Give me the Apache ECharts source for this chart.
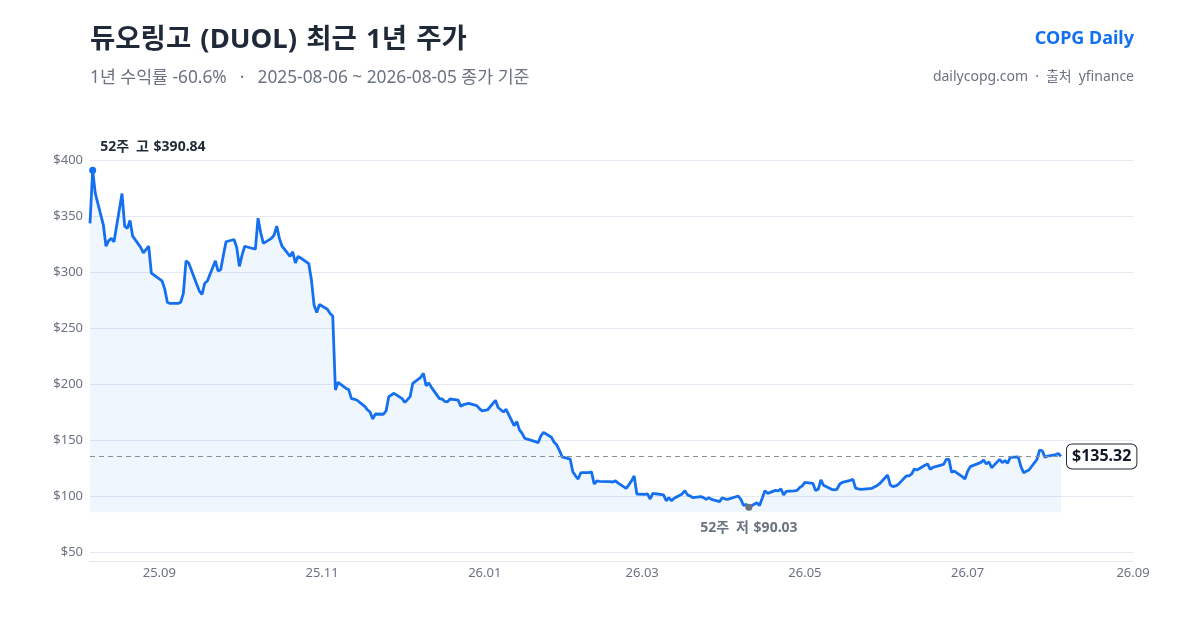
<!DOCTYPE html>
<html>
<head>
<meta charset="utf-8">
<script src="https://cdn.jsdelivr.net/npm/echarts@6/dist/echarts.min.js"></script>
<style>
  html, body { margin: 0; padding: 0; background: #fff; }
  #chart { width: 1200px; height: 630px; }
</style>
</head>
<body>
<div id="chart"></div>
<script>
const FONT = "'Noto Sans', 'Noto Sans CJK KR', sans-serif"
const SP = '\u2002', SP3 = '\u2004' // 한글 사이 간격을 조금 넓게

// 종가 (일별)
const dates = [
  '2025-08-06','2025-08-07','2025-08-08','2025-08-11','2025-08-12','2025-08-13','2025-08-14','2025-08-15',
  '2025-08-18','2025-08-19','2025-08-20','2025-08-21','2025-08-22','2025-08-25','2025-08-26','2025-08-27',
  '2025-08-28','2025-08-29','2025-09-02','2025-09-03','2025-09-04','2025-09-05','2025-09-08','2025-09-09',
  '2025-09-10','2025-09-11','2025-09-12','2025-09-15','2025-09-16','2025-09-17','2025-09-18','2025-09-19',
  '2025-09-22','2025-09-23','2025-09-24','2025-09-25','2025-09-26','2025-09-29','2025-09-30','2025-10-01',
  '2025-10-02','2025-10-03','2025-10-06','2025-10-07','2025-10-08','2025-10-09','2025-10-10','2025-10-13',
  '2025-10-14','2025-10-15','2025-10-16','2025-10-17','2025-10-20','2025-10-21','2025-10-22','2025-10-23',
  '2025-10-24','2025-10-27','2025-10-28','2025-10-29','2025-10-30','2025-10-31','2025-11-03','2025-11-04',
  '2025-11-05','2025-11-06','2025-11-07','2025-11-10','2025-11-11','2025-11-12','2025-11-13','2025-11-14',
  '2025-11-17','2025-11-18','2025-11-19','2025-11-20','2025-11-21','2025-11-24','2025-11-25','2025-11-26',
  '2025-11-28','2025-12-01','2025-12-02','2025-12-03','2025-12-04','2025-12-05','2025-12-08','2025-12-09',
  '2025-12-10','2025-12-11','2025-12-12','2025-12-15','2025-12-16','2025-12-17','2025-12-18','2025-12-19',
  '2025-12-22','2025-12-23','2025-12-24','2025-12-26','2025-12-29','2025-12-30','2025-12-31','2026-01-02',
  '2026-01-05','2026-01-06','2026-01-07','2026-01-08','2026-01-09','2026-01-12','2026-01-13','2026-01-14',
  '2026-01-15','2026-01-16','2026-01-20','2026-01-21','2026-01-22','2026-01-23','2026-01-26','2026-01-27',
  '2026-01-28','2026-01-29','2026-01-30','2026-02-02','2026-02-03','2026-02-04','2026-02-05','2026-02-06',
  '2026-02-09','2026-02-10','2026-02-11','2026-02-12','2026-02-13','2026-02-17','2026-02-18','2026-02-19',
  '2026-02-20','2026-02-23','2026-02-24','2026-02-25','2026-02-26','2026-02-27','2026-03-02','2026-03-03',
  '2026-03-04','2026-03-05','2026-03-06','2026-03-09','2026-03-10','2026-03-11','2026-03-12','2026-03-13',
  '2026-03-16','2026-03-17','2026-03-18','2026-03-19','2026-03-20','2026-03-23','2026-03-24','2026-03-25',
  '2026-03-26','2026-03-27','2026-03-30','2026-03-31','2026-04-01','2026-04-02','2026-04-06','2026-04-07',
  '2026-04-08','2026-04-09','2026-04-10','2026-04-13','2026-04-14','2026-04-15','2026-04-16','2026-04-17',
  '2026-04-20','2026-04-21','2026-04-22','2026-04-23','2026-04-24','2026-04-27','2026-04-28','2026-04-29',
  '2026-04-30','2026-05-01','2026-05-04','2026-05-05','2026-05-06','2026-05-07','2026-05-08','2026-05-11',
  '2026-05-12','2026-05-13','2026-05-14','2026-05-15','2026-05-18','2026-05-19','2026-05-20','2026-05-21',
  '2026-05-22','2026-05-26','2026-05-27','2026-05-28','2026-05-29','2026-06-01','2026-06-02','2026-06-03',
  '2026-06-04','2026-06-05','2026-06-08','2026-06-09','2026-06-10','2026-06-11','2026-06-12','2026-06-15',
  '2026-06-16','2026-06-17','2026-06-18','2026-06-22','2026-06-23','2026-06-24','2026-06-25','2026-06-26',
  '2026-06-29','2026-06-30','2026-07-01','2026-07-02','2026-07-06','2026-07-07','2026-07-08','2026-07-09',
  '2026-07-10','2026-07-13','2026-07-14','2026-07-15','2026-07-16','2026-07-17','2026-07-20','2026-07-21',
  '2026-07-22','2026-07-23','2026-07-24','2026-07-27','2026-07-28','2026-07-29','2026-07-30','2026-07-31',
  '2026-08-03','2026-08-04','2026-08-05'
]
const closes = [
  343.45, 390.84, 370, 342, 323, 328, 330, 327,
  370, 341, 339, 346, 332, 322, 317, 320,
  323, 299, 292, 285, 273, 272, 272, 273,
  281, 310, 308, 289, 283, 280, 290, 292,
  310, 301, 302, 315, 327, 329, 322, 305,
  315, 323, 321, 320.5, 348, 335, 325.6, 330,
  333, 341, 330, 323, 314, 318, 308, 314,
  312.5, 307.5, 293, 270.5, 263.7, 271, 266.7, 263,
  260.7, 194.6, 201.5, 196, 195, 187, 186.5, 185.7,
  180, 177, 175, 168.8, 173.2, 173, 176, 188.7,
  191.7, 187, 183.6, 186, 188.7, 200.6, 206, 209.5,
  198.5, 201, 197, 186.9, 186.6, 184.5, 184, 186.6,
  185.7, 180, 181.5, 182.7, 180.7, 178, 176, 176.8,
  185.4, 179, 177, 175, 177.4, 162.8, 166.4, 159,
  156, 151.5, 148.5, 147.6, 153.6, 156.8, 152.4, 148,
  145.5, 140.5, 135, 133, 121.7, 118, 115.2, 120.8,
  120.8, 121.5, 110.7, 113.4, 113, 112.8, 112.5, 113.5,
  111.5, 106.8, 110, 113.5, 117.9, 101.8, 101.5, 102,
  97.3, 102.4, 102, 101, 95.8, 98.5, 95.8, 98,
  101.8, 104.8, 101, 100, 98.5, 99.4, 98.5, 97,
  98.5, 97, 95, 98.5, 97.5, 97, 100, 97,
  91.5, 92.5, 90.03, 94, 91.5, 98, 104.8, 102.4,
  105, 104.5, 106.5, 101, 104.2, 104.5, 105, 107.4,
  109, 112.2, 111.3, 105, 106, 114.3, 109.5, 106,
  105.4, 106, 110.5, 112.2, 114, 114.9, 107, 106.3,
  106, 106.8, 108, 109.2, 111, 118.75, 110, 108.3,
  109, 110.4, 117.9, 118, 119.5, 124.1, 123.2, 127.5,
  128.6, 123.8, 125.5, 128.3, 132.7, 132.7, 121.1, 122.3,
  117.3, 115.2, 122, 126.2, 130, 132.1, 128.6, 130.6,
  125.3, 132.7, 129.8, 131.6, 129.2, 134.5, 135, 126.2,
  120.8, 122, 123.2, 132.7, 141, 140.4, 134.5, 135.7,
  137, 138, 135.32
]
// x축 눈금 (2개월 간격)
const tickDates = ['2025-09-01', '2025-11-01', '2026-01-01', '2026-03-01', '2026-05-01', '2026-07-01', '2026-09-01']
const axisEnd = '2026-09-01'

const ts = s => new Date(s + 'T00:00:00').getTime()

const first = closes[0], last = closes[closes.length - 1]
const hi = Math.max(...closes), lo = Math.min(...closes)
const hiDate = dates[closes.indexOf(hi)], loDate = dates[closes.indexOf(lo)]
const ret = ((last / first - 1) * 100).toFixed(1)
const fmt = n => '$' + n.toFixed(2)

const opt = {
  animation: false,
  textStyle: { fontFamily: FONT },
  title: [
    { text: ['듀오링고', '(DUOL)', '최근', '1년', '주가'].join(SP3), left: 90, top: 26, padding: 0,
      textStyle: { fontFamily: FONT, fontSize: 27.5, fontWeight: 'bold', color: '#1f2937' } },
    { text: `1년 수익률 ${ret}%${SP} · ${SP}${dates[0]} ~ ${dates[dates.length - 1]} 종가 기준`, left: 90, top: 69, padding: 0,
      textStyle: { fontFamily: FONT, fontSize: 17.3, fontWeight: 'normal', color: '#6b7280' } },
    { text: 'COPG Daily', right: 66, top: 30, padding: 0,
      textStyle: { fontFamily: FONT, fontSize: 18, fontWeight: 'bold', color: '#1570ef' } },
    { text: `dailycopg.com${SP}·${SP}출처${SP}yfinance`, right: 66, top: 70, padding: 0,
      textStyle: { fontFamily: FONT, fontSize: 14, fontWeight: 'normal', color: '#6b7280' } }
  ],
  grid: { left: 90, right: 67, top: 160, bottom: 78 },
  xAxis: {
    type: 'value',
    min: ts(dates[0]),
    max: ts(axisEnd),
    offset: 9,
    axisLine: { lineStyle: { color: '#e2e6ee' } },
    axisTick: { show: false },
    splitLine: { show: false },
    axisLabel: {
      customValues: tickDates.map(ts),
      margin: 6,
      fontSize: 13,
      color: '#6b7280',
      fontFamily: FONT,
      formatter: v => {
        const d = new Date(v)
        return String(d.getFullYear()).slice(2) + '.' + String(d.getMonth() + 1).padStart(2, '0')
      }
    }
  },
  yAxis: {
    type: 'value',
    min: 50,
    max: 400,
    interval: 50,
    axisLine: { show: false },
    axisTick: { show: false },
    splitLine: { lineStyle: { color: '#e5e9f2' } },
    axisLabel: { margin: 7, fontSize: 13, color: '#6b7280', fontFamily: FONT, formatter: v => '$' + v }
  },
  series: [{
    type: 'line',
    data: dates.map((d, i) => [ts(d), closes[i]]),
    showSymbol: false,
    symbol: 'none',
    lineStyle: { color: '#1570ef', width: 2.8 },
    itemStyle: { color: '#1570ef' },
    areaStyle: { color: 'rgba(21,112,239,0.09)', origin: lo * 0.95 },
    markPoint: {
      symbol: 'circle',
      symbolSize: 7,
      data: [
        { coord: [ts(hiDate), hi], itemStyle: { color: '#1570ef' },
          label: { show: true, position: 'right', distance: 4, offset: [0, -23],
            formatter: `52주${SP}고${SP3}${fmt(hi)}`, fontSize: 14, fontWeight: 'bold', color: '#1f2937', fontFamily: FONT } },
        { coord: [ts(loDate), lo], itemStyle: { color: '#6b7280' },
          label: { show: true, position: 'bottom', distance: 10,
            formatter: `52주${SP}저${SP3}${fmt(lo)}`, fontSize: 14, fontWeight: 'bold', color: '#6b7280', fontFamily: FONT } }
      ]
    },
    markLine: {
      silent: true,
      symbol: 'none',
      lineStyle: { color: '#8a9099', type: [5, 4], width: 1 },
      label: {
        show: true, position: 'end', distance: 6,
        formatter: fmt(last),
        fontSize: 16, fontWeight: 'bold', color: '#111827', fontFamily: FONT,
        backgroundColor: '#fff', borderColor: '#1f2937', borderWidth: 1, borderRadius: 5,
        padding: [4, 5]
      },
      data: [[{ coord: [ts(dates[0]), last] }, { coord: [ts(dates[dates.length - 1]), last] }]]
    }
  }]
}

echarts.init(document.getElementById('chart')).setOption(opt)
</script>
</body>
</html>
